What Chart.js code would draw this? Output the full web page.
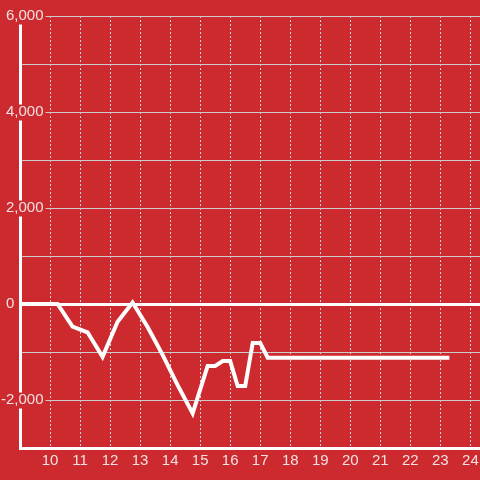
<!DOCTYPE html>
<html>
<head>
<meta charset="utf-8">
<script src="https://cdn.jsdelivr.net/npm/chart.js@4/dist/chart.umd.min.js"></script>
<style>
html, body { margin: 0; padding: 0; background: #cc2a2f; }
canvas { display: block; }
</style>
</head>
<body>
<canvas id="grafico" width="480" height="480"></canvas>
<script>
const horas = [9, 10.25, 10.75, 11.25, 11.75, 12.25, 12.75, 13.25, 13.75, 14.25, 14.75, 15.25, 15.5, 15.75, 16, 16.25, 16.5, 16.75, 17, 17.25, 23.3];
const valores = [0, 0, -470, -590, -1100, -370, 30, -480, -1060, -1690, -2280, -1290, -1290, -1190, -1190, -1710, -1710, -810, -810, -1120, -1120];
const etiquetasX = [10, 11, 12, 13, 14, 15, 16, 17, 18, 19, 20, 21, 22, 23, 24];
const etiquetasY = [6000, 4000, 2000, 0, -2000];

const colorTexto = '#f3e1e1';
const fuente = { family: "'Liberation Sans', Arial, sans-serif", size: 15, lineHeight: 1 };

const ctx = document.getElementById('grafico');

const puntos = horas.map((h, i) => ({ x: h, y: valores[i] }));

function etiquetaY(v) {
    if (!etiquetasY.includes(v)) return '';
    // el cero va pegado a la izquierda del eje
    if (v === 0) return '0\u2007\u2007   ';
    return v.toLocaleString('en-US');
}

new Chart(ctx, {
    type: 'line',
    data: {
        datasets: [{
            data: puntos,
            borderColor: '#ffffff',
            borderWidth: 4,
            pointRadius: 0,
            tension: 0,
            fill: false
        }]
    },
    options: {
        responsive: false,
        animation: false,
        devicePixelRatio: 1,
        layout: { padding: { top: 16, right: 0, left: 0, bottom: 0 } },
        plugins: { legend: { display: false }, tooltip: { enabled: false } },
        scales: {
            x: {
                type: 'linear',
                min: 9,
                max: 24.32,
                afterBuildTicks: s => { s.ticks = etiquetasX.map(v => ({ value: v })); },
                afterFit: s => { s.height = 32; s.paddingLeft = 0; s.paddingRight = 0; },
                ticks: {
                    color: colorTexto,
                    font: { family: fuente.family, size: 15 },
                    padding: 4,
                    maxRotation: 0,
                    autoSkip: false
                },
                grid: { color: '#d6d6d6', lineWidth: 1, drawTicks: false },
                border: { display: true, color: '#ffffff', width: 3, dash: [2, 2] }
            },
            y: {
                min: -3000,
                max: 6000,
                afterFit: s => { s.width = 20; },
                ticks: {
                    stepSize: 1000,
                    autoSkip: false,
                    mirror: true,
                    crossAlign: 'far',
                    color: colorTexto,
                    font: fuente,
                    padding: -19,
                    callback: etiquetaY,
                    showLabelBackdrop: c => etiquetasY.includes(c.tick.value) && c.tick.value !== 0,
                    backdropColor: '#cc2a2f',
                    backdropPadding: { left: 2, right: 2, top: 0, bottom: 1 }
                },
                grid: {
                    drawTicks: false,
                    color: c => c.tick.value === 0 ? '#ffffff' : (c.tick.value === -3000 ? 'rgba(0,0,0,0)' : '#cccccc'),
                    lineWidth: c => c.tick.value === 0 ? 3 : 1
                },
                border: { display: true, color: '#ffffff', width: 3 }
            }
        }
    }
});
</script>
</body>
</html>
